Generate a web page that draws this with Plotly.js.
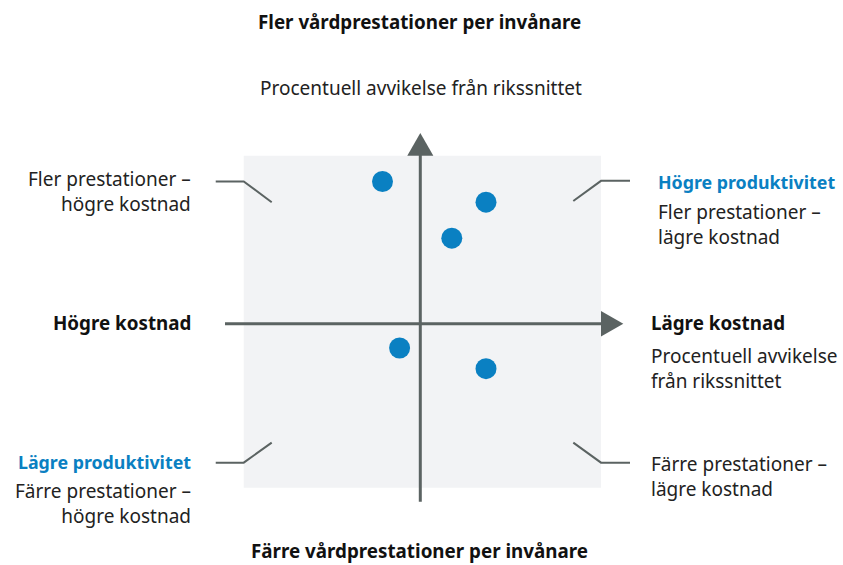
<!DOCTYPE html>
<html>
<head>
<meta charset="utf-8">
<script src="https://cdn.plot.ly/plotly-3.0.1.min.js"></script>
<style>
  html, body { margin: 0; padding: 0; background: #ffffff; }
  #chart { width: 843px; height: 565px; }
</style>
</head>
<body>
<div id="chart"></div>
<script>
// Procentuell avvikelse från rikssnittet (kostnad resp. vårdprestationer)
const costDeviation = [-4.2, 7.3, 3.5, -2.3, 7.3];
const volumeDeviation = [15.8, 13.5, 9.5, -2.7, -5.0];

const W = 843, H = 565;
const GREY = '#5b6362';
const BLUE = '#0a80c2';
const FONT = '"Noto Sans", "DejaVu Sans", sans-serif';
const TEXT_SIZE = 19;
const BOLD_SIZE = 18.8;
const BLUE_SIZE = 17.8;

// pixel helpers for paper-referenced text
const px = x => x / W;
const py = y => 1 - y / H;

const trace = {
  x: costDeviation,
  y: volumeDeviation,
  type: 'scatter',
  mode: 'markers',
  marker: { size: 21, color: BLUE, line: { width: 0 } },
  hoverinfo: 'skip',
  showlegend: false
};

// the axes live in data units (9 px per unit), origin at the cross
const shapes = [
  // grey field
  { type: 'rect', x0: -19.62, x1: 20.08, y0: -18.22, y1: 18.67,
    fillcolor: '#f2f3f5', line: { width: 0 }, layer: 'below' },
  // horizontal axis + arrow
  { type: 'line', x0: -21.7, x1: 20.3, y0: 0, y1: 0, line: { color: GREY, width: 3 } },
  { type: 'path', path: 'M 20.08,1.42 L 22.56,0 L 20.08,-1.42 Z',
    fillcolor: GREY, line: { width: 0 } },
  // vertical axis + arrow
  { type: 'line', x0: 0, x1: 0, y0: -19.78, y1: 18.9, line: { color: GREY, width: 3 } },
  { type: 'path', path: 'M -1.45,18.67 L 0,21.19 L 1.45,18.67 Z',
    fillcolor: GREY, line: { width: 0 } },
  // leader lines
  { type: 'path', path: 'M -22.73,15.8 L -19.62,15.8 L -16.51,13.5',
    line: { color: GREY, width: 2 } },
  { type: 'path', path: 'M 23.3,15.87 L 20.08,15.87 L 17.0,13.63',
    line: { color: GREY, width: 2 } },
  { type: 'path', path: 'M -22.73,-15.44 L -19.62,-15.44 L -16.51,-13.22',
    line: { color: GREY, width: 2 } },
  { type: 'path', path: 'M 23.3,-15.44 L 20.08,-15.44 L 17.0,-13.22',
    line: { color: GREY, width: 2 } }
];

function note(text, x, y, align, opts) {
  return Object.assign({
    xref: 'paper', yref: 'paper', x: px(x), y: py(y),
    xanchor: align, yanchor: 'middle', align: align,
    text: text, showarrow: false,
    font: { family: FONT, size: TEXT_SIZE, color: '#222222' }
  }, opts || {});
}
const bold = () => ({ font: { family: FONT, size: BOLD_SIZE, color: '#111111', weight: 700 } });
const blue = () => ({ font: { family: FONT, size: BLUE_SIZE, color: BLUE, weight: 700 } });

const annotations = [
  note('<b>Fler vårdprestationer per invånare</b>', 419, 22, 'center', bold()),
  note('Procentuell avvikelse från rikssnittet', 421, 88, 'center'),
  note('<b>Färre vårdprestationer per invånare</b>', 419, 551, 'center', bold()),

  note('Fler prestationer –<br>högre kostnad', 193, 191, 'right'),
  note('<b>Högre kostnad</b>', 193, 323, 'right', bold()),
  note('<b>Lägre produktivitet</b>', 193, 462, 'right', blue()),
  note('Färre prestationer –<br>högre kostnad', 193, 503, 'right'),

  note('<b>Högre produktivitet</b>', 656, 182, 'left', blue()),
  note('Fler prestationer –<br>lägre kostnad', 656, 224, 'left'),
  note('<b>Lägre kostnad</b>', 649, 323, 'left', bold()),
  note('Procentuell avvikelse<br>från rikssnittet', 649, 368, 'left'),
  note('Färre prestationer –<br>lägre kostnad', 649, 476, 'left')
];

const hidden = {
  showgrid: false, zeroline: false, showticklabels: false,
  ticks: '', showline: false, fixedrange: true
};

const layout = {
  width: W,
  height: H,
  margin: { l: 0, r: 0, t: 0, b: 0 },
  paper_bgcolor: '#ffffff',
  plot_bgcolor: 'rgba(0,0,0,0)',
  xaxis: Object.assign({ range: [-420.3 / 9, (W - 420.3) / 9], domain: [0, 1] }, hidden),
  yaxis: Object.assign({ range: [(323.7 - H) / 9, 323.7 / 9], domain: [0, 1] }, hidden),
  shapes: shapes,
  annotations: annotations,
  hovermode: false,
  showlegend: false,
  font: { family: FONT }
};

Plotly.newPlot('chart', [trace], layout, { staticPlot: true, displayModeBar: false });
</script>
</body>
</html>
